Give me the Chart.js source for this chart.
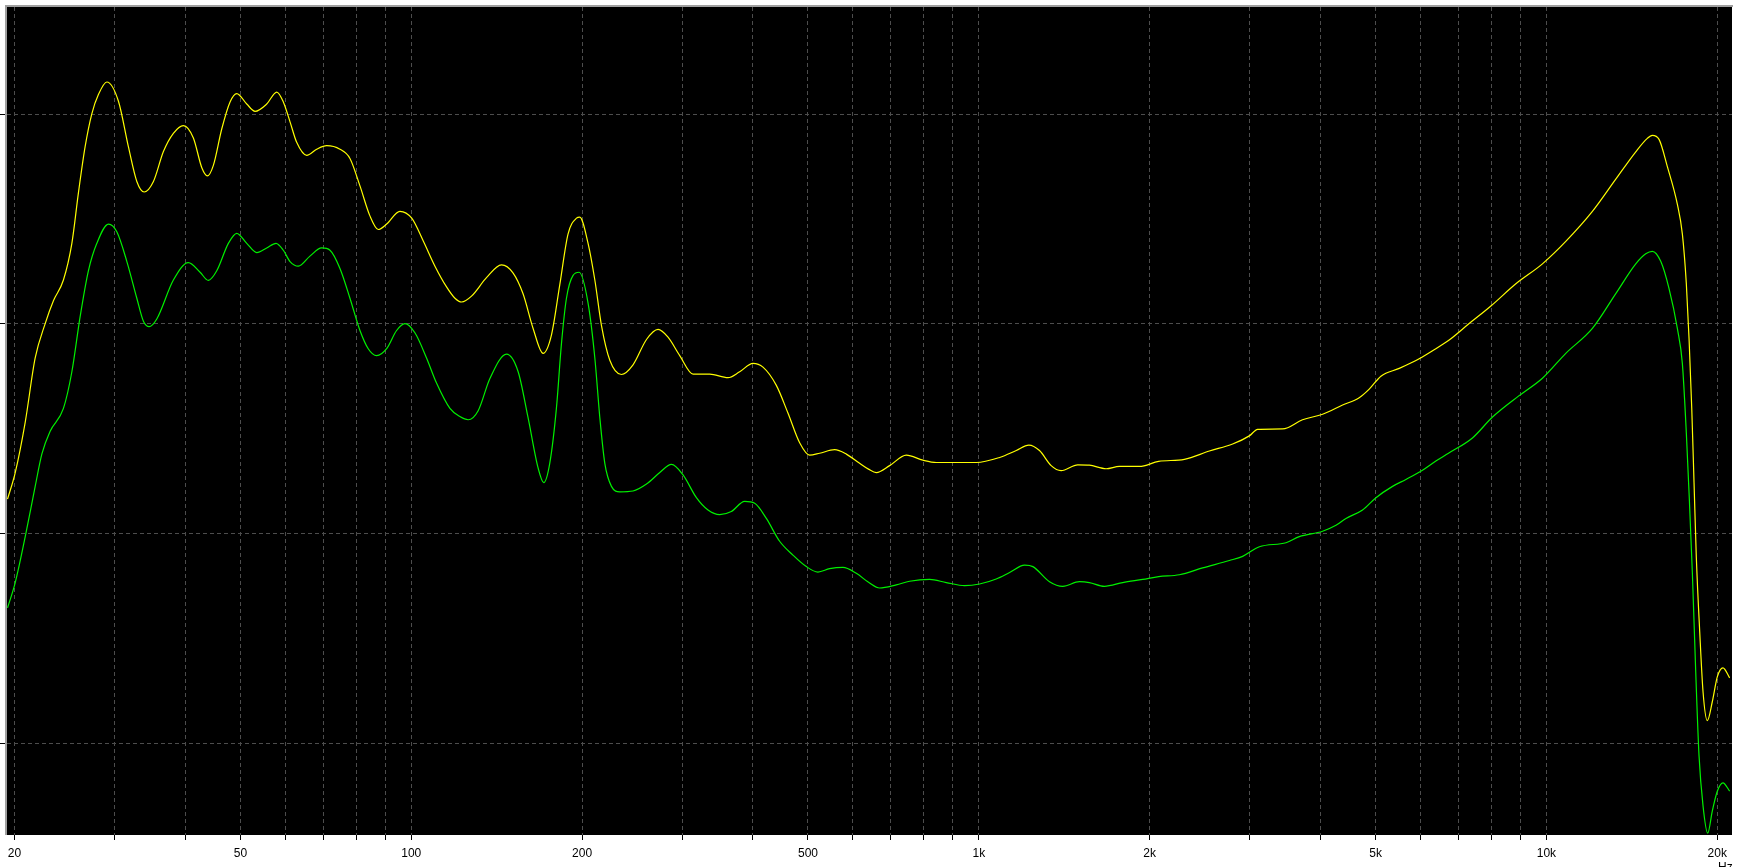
<!DOCTYPE html>
<html>
<head>
<meta charset="utf-8">
<script src="https://cdn.jsdelivr.net/npm/chart.js@4.4.1/dist/chart.umd.min.js"></script>
<style>
html, body { margin: 0; padding: 0; background: #fff; overflow: hidden; }
</style>
</head>
<body>
<canvas id="fr_chart" width="1741" height="867"></canvas>
<script>
// yellow trace (Hz / dB)
const yellowFreq = [19.44, 20.06, 20.89, 21.75, 22.65, 23.43, 24.39, 25.24, 25.92, 26.63, 27.36, 28.12, 29.09, 30.49, 31.75, 32.85, 33.84, 35.14, 36.59, 38.10, 39.68, 41.32, 42.76, 43.74, 44.81, 46.37, 47.95, 49.27, 51.31, 53.07, 55.64, 57.95, 59.52,
    61.16, 62.83, 65.43, 68.14, 70.96, 74.89, 77.99, 81.22, 84.57, 87.47, 90.5, 95.5, 100.2, 105.0, 110.1, 115.4, 119.4, 122.7, 127.7, 135.7, 144.2, 151.2, 157.4, 163.9, 170.7, 176.6, 182.7, 188.9, 195.5, 198.1,
    204.9, 210.6, 216.4, 223.8, 234.6, 245.9, 259.7, 272.2, 283.4, 297.2, 313.7, 335.6, 361.4, 379.0, 400.0, 416.6, 439.8, 461.0, 483.4, 503.4, 524.2, 557.1, 584.2, 616.5, 640.2,
    659.7, 696.3, 745.0, 796.9, 841.4, 989.7, 1088, 1164, 1225, 1279, 1341, 1396, 1494, 1566, 1676, 1769, 1918, 2074,
    2302, 2548, 2800, 2996, 3099, 3430, 3718, 4033, 4374, 4679, 4873, 5110, 5504, 5968, 6386, 6721,
    7309, 7983, 8834, 9839, 10817, 12050, 13249, 14368, 15059, 15368, 15791, 16333, 17008, 17357, 17640, 17835, 18031, 18200, 18370, 18625, 18876, 19208, 19599, 20000, 20468, 21030];
const yellowLevel = [-8.36, -7.09, -4.68, -1.62, 0.02, 1.12, 2.1, 3.85, 6.26, 8.45, 10.02, 10.96, 11.55, 10.63, 8.45, 6.8, 6.3, 6.8, 8.23, 9.1, 9.47, 8.88, 7.46, 7.07, 7.57, 9.32, 10.6, 11.0, 10.5, 10.15, 10.5, 11.07, 10.6,
    9.65, 8.67, 8.05, 8.34, 8.51, 8.34, 7.9, 6.59, 5.16, 4.51, 4.77, 5.38, 5.05, 3.96, 2.76, 1.77, 1.23, 1.05, 1.33, 2.21, 2.82, 2.43, 1.44, -0.2, -1.4, -0.53, 1.88, 4.29, 5.05, 5.1,
    3.85, 2.1, -0.09, -1.73, -2.41, -1.95, -0.74, -0.26, -0.63, -1.51, -2.39, -2.39, -2.56, -2.28, -1.88, -2.06, -2.93, -4.25, -5.67, -6.26, -6.17, -6.0, -6.21, -6.65, -6.94,
    -7.09, -6.76, -6.26, -6.5, -6.61, -6.61, -6.37, -6.04, -5.78, -6.04, -6.76, -7.0, -6.72, -6.74, -6.91, -6.8, -6.8, -6.56,
    -6.46, -6.06, -5.73, -5.34, -5.03, -5.01, -4.57, -4.31, -3.87, -3.52, -3.11, -2.49, -2.12, -1.66, -1.18, -0.79,
    0.02, 0.86, 1.92, 2.87, 3.94, 5.37, 6.91, 8.22, 8.86, 9.0, 8.81, 7.51, 5.72, 4.3, 1.92, -0.69, -4.01, -7.58, -11.14, -14.7, -17.55, -18.93, -18.03, -16.84, -16.41, -16.89];

// green trace (Hz / dB)
const greenFreq = [19.44, 20.06, 20.89, 21.75, 22.35, 23.11, 24.39, 25.24, 26.10, 26.99, 27.93, 29.28, 30.29, 31.55, 32.85, 33.74, 34.53, 35.62, 38.10, 40.49, 42.46, 43.91, 45.43, 47.62, 49.27, 51.31, 53.43, 55.64, 57.78, 59.52,
    61.16, 63.25, 66.31, 69.53, 71.92, 74.89, 77.99, 81.22, 83.99, 86.9, 90.5, 94.23, 97.46, 101.5, 106.4, 110.8, 117.0, 121.8, 126.0, 131.2, 137.6, 147.2, 154.3, 160.6, 167.3, 171.2, 175.4, 180.2, 183.9, 187.7, 192.8, 197.6,
    204.9, 210.6, 214.9, 219.3, 225.3, 233.0, 245.9, 259.7, 274.1, 287.4, 301.2, 318.0, 333.3, 349.5, 366.4, 386.7, 402.8, 422.3, 445.7, 470.4, 496.7, 520.6, 545.9, 576.2, 608.3, 640.2,
    668.6, 715.4, 755.0, 818.8, 876.2, 943.8, 1003, 1073, 1133, 1204, 1245, 1332, 1406, 1504, 1566, 1664, 1793, 1944, 2074,
    2256, 2479, 2763, 2916, 3121, 3477, 3669, 4033, 4258, 4434, 4743, 5008, 5356, 5655, 6048, 6386, 6721,
    7407, 8035, 8950, 9839, 10817, 12050, 13249, 14368, 14962, 15368, 15900, 16445, 17008, 17357, 17640, 17835, 18075, 18325, 18572, 18876, 19237, 19599, 20000, 20468, 21030];
const greenLevel = [-13.55, -12.34, -10.15, -7.75, -6.2, -5.12, -4.03, -2.28, 0.35, 2.54, 3.85, 4.77, 4.4, 2.98, 1.23, 0.13, -0.13, 0.24, 2.1, 2.93, 2.47, 2.08, 2.54, 3.85, 4.33, 3.85, 3.41, 3.63, 3.85, 3.52,
    2.98, 2.76, 3.24, 3.63, 3.52, 2.65, 1.23, -0.31, -1.18, -1.51, -1.18, -0.31, 0.02, -0.42, -1.62, -2.82, -4.03, -4.42, -4.57, -4.14, -2.6, -1.44, -2.28, -4.46, -6.87, -7.57, -6.65, -4.03, -0.96, 1.23, 2.32, 2.47,
    1.0, -1.62, -4.46, -6.65, -7.75, -8.01, -7.97, -7.64, -7.09, -6.7, -7.2, -8.29, -8.88, -9.1, -8.95, -8.47, -8.56, -9.28, -10.37, -11.03, -11.58, -11.84, -11.68, -11.62, -11.9, -12.34,
    -12.6, -12.45, -12.28, -12.19, -12.34, -12.49, -12.41, -12.17, -11.86, -11.51, -11.58, -12.3, -12.52, -12.3, -12.34, -12.52, -12.34, -12.19, -12.06,
    -11.97, -11.64, -11.29, -11.09, -10.63, -10.44, -10.15, -9.89, -9.61, -9.28, -8.88, -8.29, -7.75, -7.42, -6.98, -6.54, -6.17,
    -5.44, -4.44, -3.42, -2.59, -1.4, -0.21, 1.45, 2.87, 3.35, 3.47, 2.99, 1.69, -0.21, -1.88, -5.2, -8.05, -11.85, -16.6, -20.6, -23.0, -24.3, -23.25, -22.3, -21.9, -22.3];

// 目盛り
const gridFreqs = [20, 30, 40, 50, 60, 70, 80, 90, 100, 200, 300, 400, 500, 600, 700, 800, 900,
    1000, 2000, 3000, 4000, 5000, 6000, 7000, 8000, 9000, 10000, 20000];
const freqLabels = {20: '20', 50: '50', 100: '100', 200: '200', 500: '500', 1000: '1k', 2000: '2k', 5000: '5k', 10000: '10k', 20000: '20k'};
const levelGrid = [-20, -10, 0, 10];

const toPoints = (fs, ls) => fs.map((f, i) => ({x: f, y: ls[i]}));

// 背景と枠
const framePlugin = {
    id: 'frame',
    beforeDraw(chart) {
        const {ctx, chartArea: a} = chart;
        ctx.save();
        ctx.fillStyle = '#000';
        ctx.fillRect(a.left, a.top, a.right - a.left, a.bottom - a.top);
        ctx.restore();
    },
    beforeDatasetsDraw(chart) {
        const {ctx, chartArea: a} = chart;
        ctx.save();
        ctx.fillStyle = '#a0a0a0';
        ctx.fillRect(a.left - 2, a.top - 2, a.right - a.left + 3, 2);
        ctx.fillRect(a.left - 2, a.top - 2, 2, a.bottom - a.top + 2);
        ctx.restore();
    },
    afterDraw(chart) {
        const {ctx, chartArea: a} = chart;
        ctx.save();
        ctx.fillStyle = '#000';
        ctx.font = '12px "Liberation Sans", Arial, sans-serif';
        ctx.textBaseline = 'top';
        ctx.fillText('Hz', a.right - 14, a.bottom + 27);
        ctx.restore();
    }
};

const gridColor = '#4d4d4d';

new Chart(document.getElementById('fr_chart'), {
    type: 'line',
    data: {
        datasets: [{
            label: 'yellow',
            data: toPoints(yellowFreq, yellowLevel),
            borderColor: '#ffff00',
            borderWidth: 1.2,
            pointRadius: 0,
            cubicInterpolationMode: 'monotone'
        }, {
            label: 'green',
            data: toPoints(greenFreq, greenLevel),
            borderColor: '#00f000',
            borderWidth: 1.2,
            pointRadius: 0,
            cubicInterpolationMode: 'monotone'
        }]
    },
    options: {
        responsive: false,
        animation: false,
        layout: { padding: { top: 7, right: 9, left: 0, bottom: 0 } },
        plugins: {
            legend: { display: false },
            tooltip: { enabled: false }
        },
        scales: {
            x: {
                type: 'logarithmic',
                min: 19.4,
                max: 21230,
                afterBuildTicks: (scale) => { scale.ticks = gridFreqs.map(v => ({value: v})); },
                afterFit: (scale) => { scale.height = 32; },
                grid: {
                    color: gridColor,
                    lineWidth: 1,
                    tickColor: '#000',
                    tickLength: 5,
                    tickWidth: 1
                },
                border: { display: false, dash: [4, 3] },
                ticks: {
                    autoSkip: false,
                    maxRotation: 0,
                    minRotation: 0,
                    padding: 6,
                    color: '#000',
                    font: { family: '"Liberation Sans", Arial, sans-serif', size: 12 },
                    callback: (v) => freqLabels[v] || ''
                }
            },
            y: {
                type: 'linear',
                min: -24.39,
                max: 15.13,
                afterBuildTicks: (scale) => { scale.ticks = levelGrid.map(v => ({value: v})); },
                afterFit: (scale) => { scale.width = 7; },
                grid: {
                    color: gridColor,
                    lineWidth: 1,
                    tickColor: '#000',
                    tickLength: 7,
                    tickWidth: 1
                },
                border: { display: false, dash: [4, 3] },
                ticks: { display: false }
            }
        }
    },
    plugins: [framePlugin]
});
</script>
</body>
</html>
